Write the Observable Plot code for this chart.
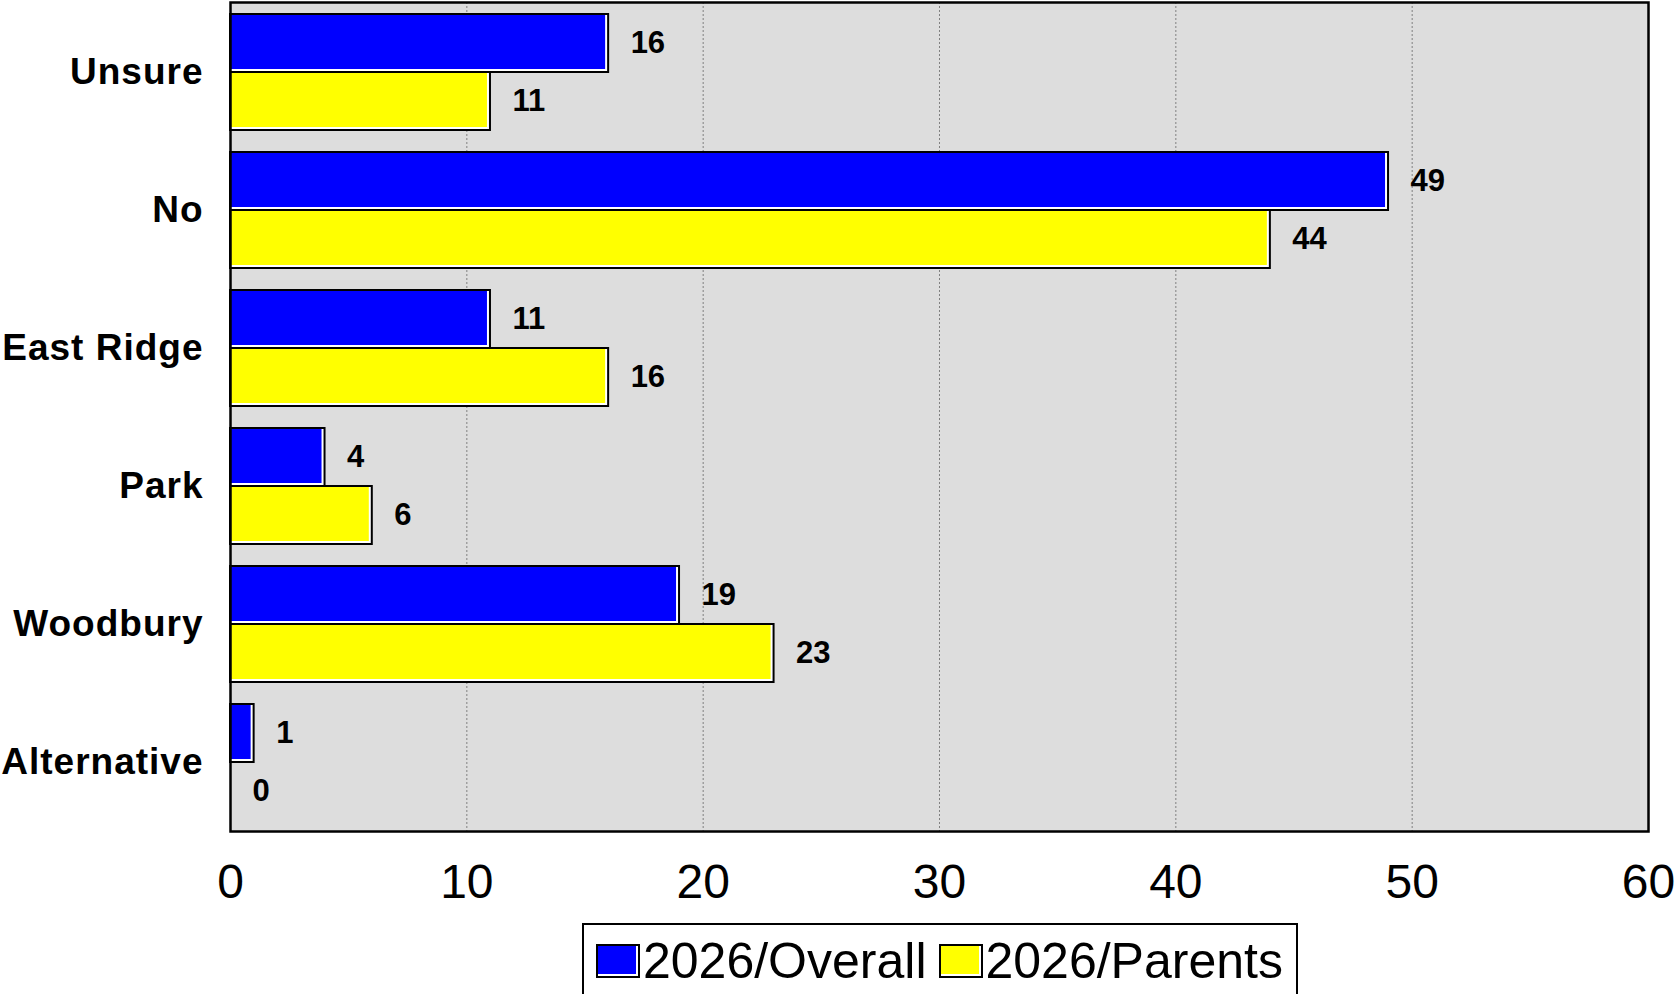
<!DOCTYPE html>
<html>
<head>
<meta charset="utf-8">
<script src="https://cdn.jsdelivr.net/npm/d3@7"></script>
<script src="https://cdn.jsdelivr.net/npm/@observablehq/plot@0.6"></script>
<style>
  html, body { margin: 0; padding: 0; background: #fff; overflow: hidden; }
  body { font-family: "Liberation Sans", Arial, sans-serif; width: 1676px; }
  #chart svg { display: block; }
  #chart svg g[aria-label="y-axis tick label"] text { letter-spacing: 1px; }
  #legend {
    position: relative;
    margin-left: 582px;
    width: 716px;
    height: 80px;
    border: 2px solid #000;
    box-sizing: border-box;
    display: flex;
    align-items: flex-start;
    padding-top: 8px;
    padding-left: 12px;
    font-size: 50px;
    line-height: 56px;
    color: #000;
    white-space: nowrap;
  }
  .item { display: flex; align-items: center; margin-right: 12px; }
  .sw {
    width: 44px; height: 34px; box-sizing: border-box;
    border: 2px solid #000;
    box-shadow: inset -2px -2px 0 #fff;
    margin-right: 3px;
  }
</style>
</head>
<body>
<div id="chart"></div>
<div id="legend"></div>
<script>
const categories = ["Unsure", "No", "East Ridge", "Park", "Woodbury", "Alternative"];
const seriesNames = ["2026/Overall", "2026/Parents"];
const seriesColors = ["#0000FF", "#FFFF00"];
const overallValues = [16, 49, 11, 4, 19, 1];
const parentsValues = [11, 44, 16, 6, 23, 0];
const xTicks = [0, 10, 20, 30, 40, 50, 60];

const overall = categories.map((c, i) => ({category: c, value: overallValues[i]}));
const parents = categories.map((c, i) => ({category: c, value: parentsValues[i]}));

const W = 1676, H = 923;
const margins = {marginLeft: 230, marginRight: 28, marginTop: 2, marginBottom: H - 831};

function build(bw) {
  const half = bw / 2;
  return Plot.plot({
    width: W,
    height: H,
    ...margins,
    style: {fontFamily: "'Liberation Sans', Arial, sans-serif", background: "#fff", color: "#000"},
    x: {domain: [0, 60], ticks: xTicks, label: null},
    y: {domain: categories, paddingInner: 0.16, paddingOuter: 0.07, label: null},
    marks: [
      Plot.frame({fill: "#DDDDDD", stroke: null}),
      Plot.gridX(xTicks.filter(d => d > 0 && d < 60), {stroke: "#808080", strokeOpacity: 1, strokeWidth: 1, strokeDasharray: "2,2"}),
      // Overall bars (top half of band)
      Plot.barX(overall, {x: "value", y: "category", fill: "#fff", stroke: "#000", strokeWidth: 2, insetBottom: half}),
      Plot.barX(overall, {x: "value", y: "category", fill: seriesColors[0], insetBottom: half + 3, insetRight: 3, insetTop: 1, insetLeft: 1}),
      // Parents bars (bottom half of band)
      Plot.barX(parents.filter(d => d.value > 0), {x: "value", y: "category", fill: "#fff", stroke: "#000", strokeWidth: 2, insetTop: half}),
      Plot.barX(parents.filter(d => d.value > 0), {x: "value", y: "category", fill: seriesColors[1], insetTop: half + 1, insetRight: 3, insetBottom: 3, insetLeft: 1}),
      Plot.text(overall, {x: "value", y: "category", text: d => String(d.value), dy: -bw / 4, dx: 22, textAnchor: "start", fontSize: 31, fontWeight: "bold", fill: "#000"}),
      Plot.text(parents, {x: "value", y: "category", text: d => String(d.value), dy: bw / 4, dx: 22, textAnchor: "start", fontSize: 31, fontWeight: "bold", fill: "#000"}),
      Plot.frame({stroke: "#000", strokeWidth: 2.5}),
      Plot.axisX(xTicks, {tickSize: 0, tickPadding: 32, fontSize: 48, label: null}),
      Plot.axisY({tickSize: 0, tickPadding: 27, fontSize: 37, fontWeight: "bold", label: null})
    ]
  });
}

const first = build(0);
const bw = first.scale("y").bandwidth;
const plot = build(bw);
document.getElementById("chart").appendChild(plot);

const legend = document.getElementById("legend");
seriesNames.forEach((name, i) => {
  const item = document.createElement("div");
  item.className = "item";
  const sw = document.createElement("div");
  sw.className = "sw";
  sw.style.background = seriesColors[i];
  const label = document.createElement("span");
  label.textContent = name;
  item.appendChild(sw);
  item.appendChild(label);
  legend.appendChild(item);
});
</script>
</body>
</html>
